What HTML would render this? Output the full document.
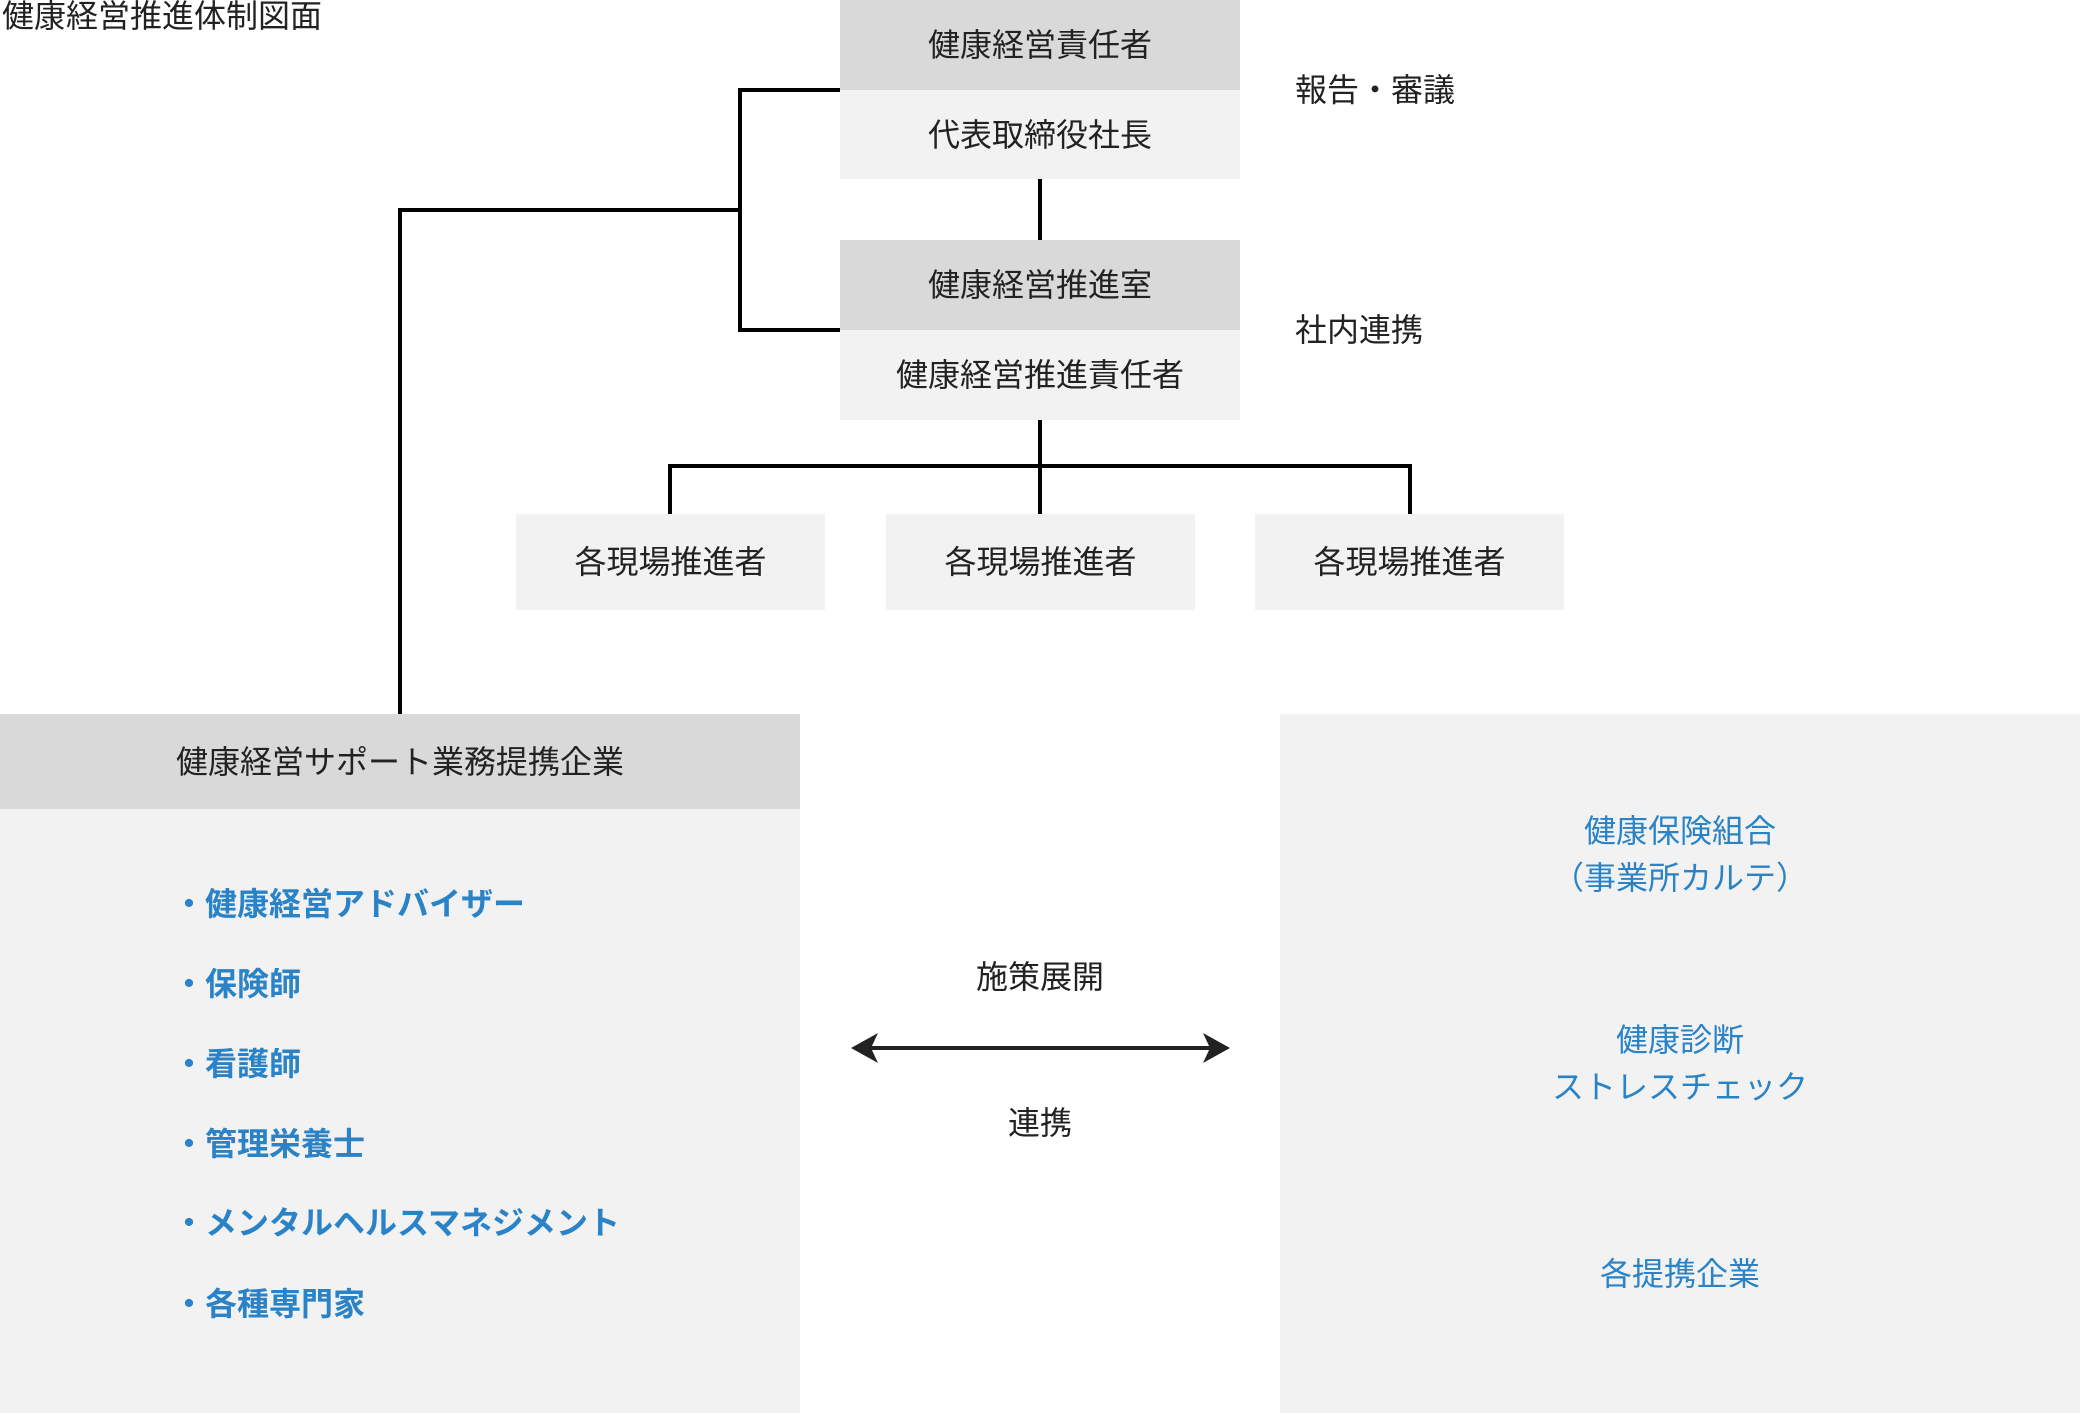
<!DOCTYPE html>
<html lang="ja">
<head>
<meta charset="utf-8">
<style>
  html, body { margin:0; padding:0; }
  body {
    width:2080px; height:1413px; position:relative; overflow:hidden;
    background:#ffffff;
    font-family:"Liberation Sans","Noto Sans CJK JP",sans-serif;
    font-size:32px; color:#222222;
  }
  .abs { position:absolute; }
  .box { position:absolute; display:flex; align-items:center; justify-content:center; white-space:nowrap; line-height:1; }
  .dark { background:#d9d9d9; }
  .light { background:#f2f2f2; }
  .lbl { position:absolute; white-space:nowrap; line-height:48px; height:48px; }
  .list { position:absolute; left:173px; white-space:nowrap; line-height:48px; height:48px; font-weight:700; color:#2a83c6; }
  .rt { position:absolute; left:1280px; width:800px; text-align:center; line-height:47px; color:#2a83c6; white-space:nowrap; }
  svg { position:absolute; left:0; top:0; }
</style>
</head>
<body>

<!-- title -->
<div class="abs" style="left:2px; top:0; line-height:32px; white-space:nowrap;">健康経営推進体制図面</div>

<!-- top box -->
<div class="box dark" style="left:840px; top:0; width:400px; height:90px;">健康経営責任者</div>
<div class="box light" style="left:840px; top:90px; width:400px; height:89px;">代表取締役社長</div>

<!-- second box -->
<div class="box dark" style="left:840px; top:240px; width:400px; height:90px;">健康経営推進室</div>
<div class="box light" style="left:840px; top:330px; width:400px; height:90px;">健康経営推進責任者</div>

<!-- side labels -->
<div class="lbl" style="left:1295px; top:66px;">報告・審議</div>
<div class="lbl" style="left:1295px; top:306px;">社内連携</div>

<!-- field boxes -->
<div class="box light" style="left:516px; top:514px; width:309px; height:96px;">各現場推進者</div>
<div class="box light" style="left:886px; top:514px; width:309px; height:96px;">各現場推進者</div>
<div class="box light" style="left:1255px; top:514px; width:309px; height:96px;">各現場推進者</div>

<!-- left panel -->
<div class="abs light" style="left:0; top:714px; width:800px; height:699px;"></div>
<div class="box dark" style="left:0; top:714px; width:800px; height:95px;">健康経営サポート業務提携企業</div>

<div class="list" style="top:880px;">・健康経営アドバイザー</div>
<div class="list" style="top:960px;">・保険師</div>
<div class="list" style="top:1040px;">・看護師</div>
<div class="list" style="top:1120px;">・管理栄養士</div>
<div class="list" style="top:1199px;">・メンタルヘルスマネジメント</div>
<div class="list" style="top:1280px;">・各種専門家</div>

<!-- right panel -->
<div class="abs light" style="left:1280px; top:714px; width:800px; height:699px;"></div>
<div class="rt" style="top:808px;">健康保険組合<br>（事業所カルテ）</div>
<div class="rt" style="top:1017px;">健康診断<br>ストレスチェック</div>
<div class="rt" style="top:1251px;">各提携企業</div>

<!-- middle labels -->
<div class="lbl" style="left:940px; width:200px; text-align:center; top:953px;">施策展開</div>
<div class="lbl" style="left:940px; width:200px; text-align:center; top:1099px;">連携</div>

<!-- connectors -->
<svg width="2080" height="1413" viewBox="0 0 2080 1413">
  <g stroke="#000" stroke-width="4" fill="none">
    <polyline points="840,90 740,90 740,330 840,330"/>
    <polyline points="740,210 400,210 400,714"/>
    <line x1="1040" y1="179" x2="1040" y2="240"/>
    <line x1="1040" y1="420" x2="1040" y2="514"/>
    <polyline points="670,514 670,466 1410,466 1410,514"/>
  </g>
  <line x1="870" y1="1048" x2="1212" y2="1048" stroke="#222" stroke-width="4"/>
  <polygon points="851,1048 878,1033 871,1048 878,1063" fill="#222"/>
  <polygon points="1230,1048 1203,1033 1210,1048 1203,1063" fill="#222"/>
</svg>

</body>
</html>
